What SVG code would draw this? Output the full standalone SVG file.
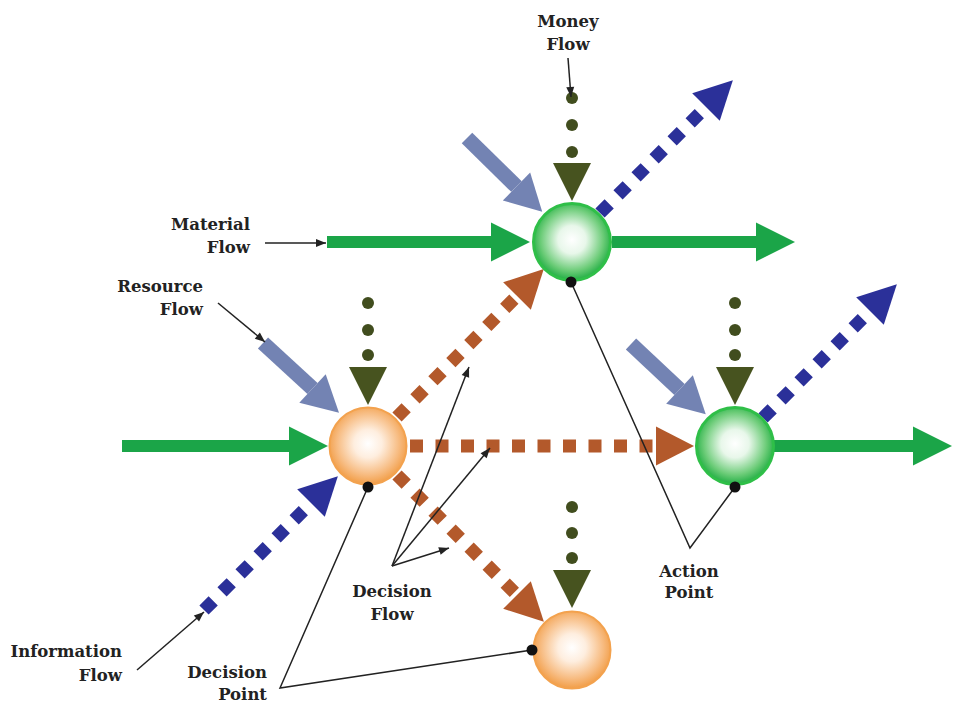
<svg xmlns="http://www.w3.org/2000/svg" width="954" height="703" viewBox="0 0 954 703">
  <style>
    .label { font-family: "DejaVu Serif", "Liberation Serif", serif; font-weight: bold; font-size: 16.5px; fill: #222; }
    .material { fill: none; stroke: #1ba548; stroke-width: 12; }
    .resource { fill: none; stroke: #7383b3; stroke-width: 15; }
    .info { fill: none; stroke: #2b3099; stroke-width: 13; stroke-dasharray: 13 12.5; }
    .decision { fill: none; stroke: #b3592b; stroke-width: 13; stroke-dasharray: 13 12.5; }
    .money-dot { fill: #414d1e; }
    .money-head { fill: #47531f; }
    .leader { fill: none; stroke: #222; stroke-width: 1.5; }
    .pin { fill: #111; }
  </style>
  <defs>
    <radialGradient id="gradGreen" cx="50%" cy="47%" r="52%">
      <stop offset="0" stop-color="#ffffff"/>
      <stop offset="0.35" stop-color="#e8f7ea"/>
      <stop offset="0.78" stop-color="#6ccc78"/>
      <stop offset="1" stop-color="#27b048"/>
    </radialGradient>
    <radialGradient id="gradOrange" cx="50%" cy="47%" r="52%">
      <stop offset="0" stop-color="#ffffff"/>
      <stop offset="0.35" stop-color="#feeedf"/>
      <stop offset="0.78" stop-color="#f7bb80"/>
      <stop offset="1" stop-color="#f2a04c"/>
    </radialGradient>
    <marker id="headGreen" markerUnits="userSpaceOnUse" markerWidth="40" markerHeight="40" orient="auto" overflow="visible">
      <path d="M0,-19.5 L39,0 L0,19.5 z" fill="#1ba548"/>
    </marker>
    <marker id="headSlate" markerUnits="userSpaceOnUse" markerWidth="40" markerHeight="40" orient="auto" overflow="visible">
      <path d="M0,-19.5 L36,0 L0,19.5 z" fill="#7383b3"/>
    </marker>
    <marker id="headBlue" markerUnits="userSpaceOnUse" markerWidth="40" markerHeight="40" orient="auto" overflow="visible">
      <path d="M0,-19.5 L38,0 L0,19.5 z" fill="#2b3099"/>
    </marker>
    <marker id="headBrown" markerUnits="userSpaceOnUse" markerWidth="40" markerHeight="40" orient="auto" overflow="visible">
      <path d="M0,-19.5 L38,0 L0,19.5 z" fill="#b3592b"/>
    </marker>
    <marker id="headThin" markerUnits="userSpaceOnUse" markerWidth="12" markerHeight="10" orient="auto" overflow="visible">
      <path d="M-10,-4 L0,0 L-10,4 z" fill="#222"/>
    </marker>
  </defs>

  <!-- flow connectors -->
  <g id="connectors">
    <!-- material flows -->
    <path class="material" d="M327,242 H491" marker-end="url(#headGreen)"/>
    <path class="material" d="M612,242 H756" marker-end="url(#headGreen)"/>
    <path class="material" d="M122,446 H289" marker-end="url(#headGreen)"/>
    <path class="material" d="M774,446 H913" marker-end="url(#headGreen)"/>

    <!-- resource flows -->
    <path class="resource" d="M467,138 L516.5,186.5" marker-end="url(#headSlate)"/>
    <path class="resource" d="M263,343 L312.5,388.5" marker-end="url(#headSlate)"/>
    <path class="resource" d="M631,344 L679.5,389.5" marker-end="url(#headSlate)"/>

    <!-- information flows -->
    <path class="info" d="M600,213 L706,107" marker-end="url(#headBlue)"/>
    <path class="info" d="M763,418 L870,311" marker-end="url(#headBlue)"/>
    <path class="info" d="M204,610 L311,503" marker-end="url(#headBlue)"/>

    <!-- decision flows -->
    <path class="decision" d="M397,417 L517,296" marker-end="url(#headBrown)"/>
    <path class="decision" d="M410,446 H656" marker-end="url(#headBrown)"/>
    <path class="decision" d="M397,475 L517,595" marker-end="url(#headBrown)"/>

    <!-- money flows -->
    <circle class="money-dot" cx="572" cy="98" r="6"/>
    <circle class="money-dot" cx="572" cy="125" r="6"/>
    <circle class="money-dot" cx="572" cy="152" r="6"/>
    <polygon class="money-head" points="553,163 591,163 572,201"/>

    <circle class="money-dot" cx="368" cy="303" r="6"/>
    <circle class="money-dot" cx="368" cy="330" r="6"/>
    <circle class="money-dot" cx="368" cy="355" r="6"/>
    <polygon class="money-head" points="349,367 387,367 368,405"/>

    <circle class="money-dot" cx="735" cy="303" r="6"/>
    <circle class="money-dot" cx="735" cy="330" r="6"/>
    <circle class="money-dot" cx="735" cy="355" r="6"/>
    <polygon class="money-head" points="716,367 754,367 735,405"/>

    <circle class="money-dot" cx="572" cy="507" r="6"/>
    <circle class="money-dot" cx="572" cy="533" r="6"/>
    <circle class="money-dot" cx="572" cy="558" r="6"/>
    <polygon class="money-head" points="553,570 591,570 572,608"/>
  </g>

  <!-- action points -->
  <g id="action-top">
    <circle cx="572" cy="242" r="38.5" fill="url(#gradGreen)" stroke="#2fbf48" stroke-width="3"/>
  </g>
  <g id="action-right">
    <circle cx="735" cy="446" r="38.5" fill="url(#gradGreen)" stroke="#2fbf48" stroke-width="3"/>
  </g>

  <!-- decision points -->
  <g id="decision-left">
    <circle cx="368" cy="446" r="38.5" fill="url(#gradOrange)" stroke="#f3a24e" stroke-width="2"/>
  </g>
  <g id="decision-bottom">
    <circle cx="572" cy="650" r="38.5" fill="url(#gradOrange)" stroke="#f3a24e" stroke-width="2"/>
  </g>

  <!-- callouts -->
  <g id="callouts">
    <path class="leader" d="M568,58 L571,97" marker-end="url(#headThin)"/>
    <path class="leader" d="M265,243 H326" marker-end="url(#headThin)"/>
    <path class="leader" d="M218,303 L265,342" marker-end="url(#headThin)"/>
    <path class="leader" d="M137,670 L204,612" marker-end="url(#headThin)"/>
    <path class="leader" d="M392,566 L469,367" marker-end="url(#headThin)"/>
    <path class="leader" d="M392,566 L490,448" marker-end="url(#headThin)"/>
    <path class="leader" d="M392,566 L449,548" marker-end="url(#headThin)"/>
    <path class="leader" d="M368,487 L280,688 L532,650"/>
    <path class="leader" d="M571,282 L690,548 L735,487"/>
    <circle class="pin" cx="368" cy="487" r="5.5"/>
    <circle class="pin" cx="532" cy="650" r="5.5"/>
    <circle class="pin" cx="571" cy="282" r="5.5"/>
    <circle class="pin" cx="735" cy="487" r="5.5"/>

    <text class="label" x="568" y="27" text-anchor="middle">Money</text>
    <text class="label" x="568" y="50" text-anchor="middle">Flow</text>
    <text class="label" x="250" y="230" text-anchor="end">Material</text>
    <text class="label" x="250" y="253" text-anchor="end">Flow</text>
    <text class="label" x="203" y="292" text-anchor="end">Resource</text>
    <text class="label" x="203" y="315" text-anchor="end">Flow</text>
    <text class="label" x="122" y="657" text-anchor="end">Information</text>
    <text class="label" x="122" y="681" text-anchor="end">Flow</text>
    <text class="label" x="392" y="597" text-anchor="middle">Decision</text>
    <text class="label" x="392" y="620" text-anchor="middle">Flow</text>
    <text class="label" x="267" y="678" text-anchor="end">Decision</text>
    <text class="label" x="267" y="700" text-anchor="end">Point</text>
    <text class="label" x="689" y="577" text-anchor="middle">Action</text>
    <text class="label" x="689" y="598" text-anchor="middle">Point</text>
  </g>
</svg>
